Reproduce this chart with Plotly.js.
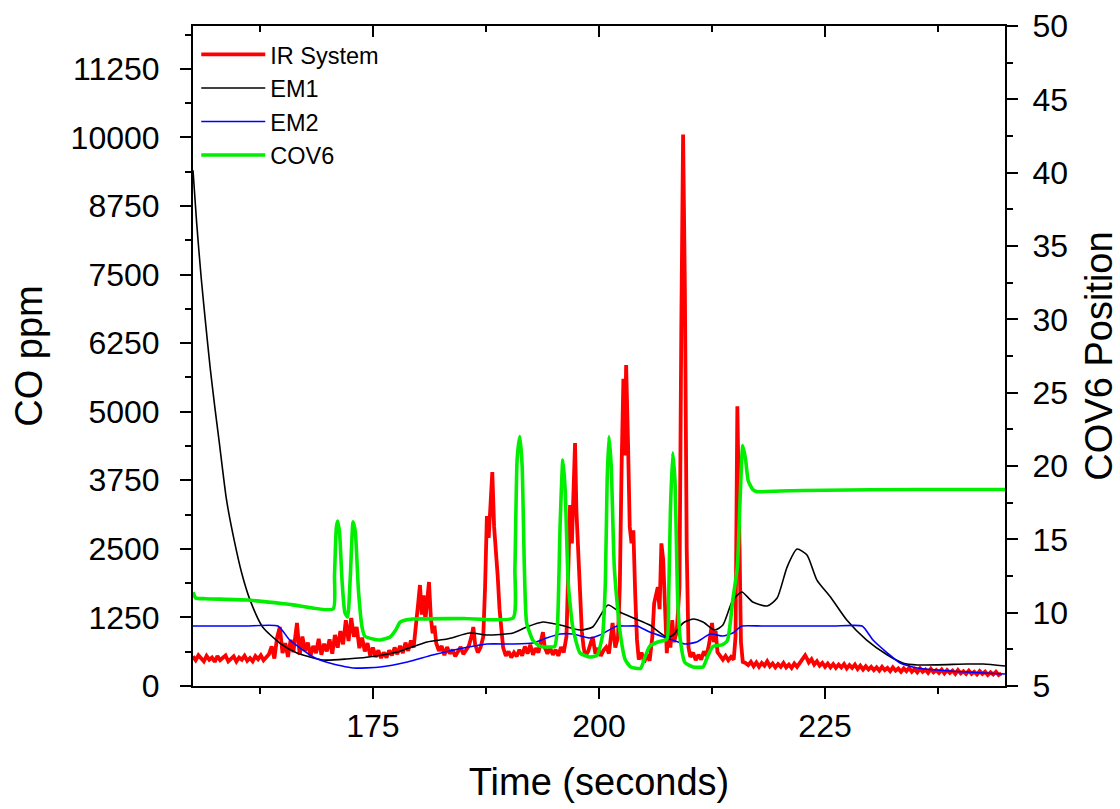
<!DOCTYPE html>
<html>
<head>
<meta charset="utf-8">
<script src="https://cdn.plot.ly/plotly-3.0.1.min.js"></script>
<style>html,body{margin:0;padding:0;background:#fff;}#chart{width:1120px;height:809px;}</style>
</head>
<body>
<div id="chart"></div>
<script>
// ---------------- DATA ----------------
const IR_T = [155.1,155.4,155.7,156.0,156.3,156.6,156.9,157.2,157.5,157.8,158.1,158.4,158.7,159.0,159.3,159.6,159.9,160.2,160.5,160.8,161.1,161.4,161.7,162.0,162.3,162.6,162.9,163.2,163.5,
163.8,164.1,164.4,164.7,165.0,165.3,165.6,165.9,166.2,166.6,166.9,167.2,167.5,167.8,168.1,168.4,168.7,169.0,169.3,169.6,169.9,170.2,170.5,170.8,171.1,171.4,171.7,172.0,172.3,172.6,172.9,173.2,173.5,173.8,174.1,174.4,174.7,175.0,175.3,175.6,175.9,
176.2,176.5,176.8,177.1,177.4,177.7,178.0,178.3,178.6,178.9,179.2,179.5,179.8,180.0,180.2,180.4,180.6,180.8,181.0,181.2,181.4,181.6,181.8,182.0,182.3,182.6,182.9,183.2,183.5,183.8,184.1,184.4,184.7,185.0,185.3,185.6,185.9,186.1,186.3,186.6,186.9,187.2,187.4,187.6,187.8,188.0,188.2,188.4,188.6,188.8,189.0,189.2,189.4,189.7,
190.0,190.3,190.6,190.9,191.2,191.5,191.8,192.1,192.4,192.7,193.0,193.3,193.6,193.8,194.0,194.3,194.6,194.9,195.2,195.5,195.8,196.1,196.4,196.6,196.8,197.0,197.2,197.35,197.5,197.7,197.9,198.1,198.3,198.5,198.8,199.1,199.3,199.6,199.9,
200.2,200.5,200.8,201.1,201.5,201.8,202.1,202.3,202.5,202.7,202.85,203.0,203.2,203.4,203.6,203.8,204.0,204.2,204.4,204.7,205.0,205.3,205.6,205.9,206.1,206.3,206.5,206.7,206.9,207.1,207.3,207.5,207.7,207.9,208.1,208.3,208.6,208.9,209.1,209.3,209.5,209.7,209.9,
210.1,210.4,210.7,211.0,211.3,211.6,211.9,212.2,212.5,212.7,212.9,213.1,213.4,213.7,214.0,214.3,214.6,214.9,215.1,215.3,215.5,215.7,215.9,216.2,216.5,216.8,217.1,217.4,217.7,218.0,218.3,218.6,218.9,219.2,219.5,219.8,
220.1,220.4,220.7,221.0,221.3,221.6,221.9,222.2,222.5,222.8,223.0,223.2,223.5,223.8,224.1,224.4,224.7,225.0,225.3,225.6,225.9,226.2,226.5,226.8,227.1,227.4,227.7,228.0,228.3,228.6,228.9,229.2,229.5,229.8,
230.1,230.4,230.7,231.0,231.3,231.6,231.9,232.2,232.5,232.8,233.1,233.4,233.7,234.0,234.3,234.6,234.9,235.2,235.5,235.8,236.1,236.4,236.7,237.0,237.3,237.6,237.9,238.2,238.5,238.8,239.1,239.4,239.7,
240.0,240.3,240.6,240.9,241.2,241.5,241.8,242.1,242.4,242.7,243.0,243.3,243.6,243.9,244.2,244.5,244.9];
const IR_V = [540,470,560,500,450,550,480,520,440,545,470,515,555,450,500,540,445,520,480,550,460,510,450,545,490,560,470,530,580,
720,500,880,1075,600,780,530,840,620,1150,570,900,640,790,550,730,600,860,570,770,630,850,590,930,700,1000,760,1200,820,1240,900,1075,690,880,630,780,550,700,530,650,510,
610,520,650,560,700,580,730,600,790,640,830,700,1100,1500,1840,1300,1650,1200,1560,1895,1250,960,1100,780,640,730,560,710,590,660,540,630,710,580,660,730,900,1075,760,610,700,900,1800,3100,2700,3200,3900,2900,2500,2000,1400,1000,700,550,
630,520,610,540,660,550,720,590,750,570,690,610,810,980,700,590,690,570,660,550,710,610,900,2200,3300,2600,3800,4430,3200,2400,1570,1000,700,550,630,770,890,590,690,
550,650,710,590,1150,700,900,1800,4000,5600,4200,5850,4500,2900,2600,2840,1700,840,480,610,430,570,460,900,1510,1700,1800,1400,2600,2300,1570,600,1100,700,1200,800,1000,1800,6500,10050,7200,2500,700,
530,610,470,570,480,630,550,790,1150,800,1000,620,550,480,550,470,530,480,900,5100,3000,800,440,420,380,440,360,430,350,420,370,450,360,410,340,
400,350,420,340,390,330,410,350,430,490,560,500,430,490,390,450,370,420,350,410,340,400,330,390,340,400,320,380,330,390,310,370,300,360,
300,350,290,340,280,350,290,330,270,340,280,320,260,320,270,330,260,310,250,320,260,300,240,310,250,290,240,300,230,290,240,280,220,
290,230,270,220,280,220,260,210,270,220,260,200,250,210,260,200,230];

const EM1_T = [155.1,155.5,156.0,156.5,157.0,157.5,158.0,158.8,159.6,160.5,161.4,162.8,164.7,166.6,169.5,172.1,175.4,177.7,181.0,183.2,185.7,187.6,190.5,192.0,193.8,195.7,197.9,199.3,201.0,202.3,203.8,205.6,207.5,208.2,209.3,210.4,211.5,212.8,213.7,214.8,215.8,217.0,218.6,219.7,220.8,221.9,223.0,224.1,225.6,227.4,229.6,231.9,233.6,235.2,240.7,242.5,244.9];
const EM1_V = [9400,8450,7450,6600,5800,5100,4450,3400,2700,2050,1570,1075,783,601,474,492,547,620,802,856,966,929,966,1075,1166,1111,1020,1075,1476,1348,1239,1111,893,929,1148,1221,1166,1020,1111,1567,1713,1530,1458,1603,2168,2496,2387,1931,1622,1203,838,565,419,383,401,401,364];

const EM2_T = [155.1,158.0,161.0,164.5,165.8,168.4,170.2,172.8,175.8,178.8,181.6,185.0,187.6,190.5,192.7,194.2,195.7,197.1,199.0,200.1,202.0,203.0,204.2,205.6,207.5,209.5,210.8,212.3,213.7,214.8,215.8,218.0,222.0,226.0,229.1,230.3,231.9,233.3,235.2,238.8,244.9];
const EM2_V = [1093,1093,1093,1093,838,528,419,328,346,437,565,692,765,765,783,875,947,947,875,929,1093,1093,1093,984,875,765,802,947,911,966,1093,1093,1093,1093,1093,838,601,419,328,273,219];

const COV6_T = [155.1,155.4,156.5,161.1,166.0,170.6,170.75,170.95,171.1,171.3,171.6,171.9,172.2,172.5,172.8,173.05,173.4,173.8,174.1,175.0,175.8,176.9,177.5,178.0,178.6,179.4,185.0,190.5,190.7,190.95,191.25,191.5,191.75,192.0,192.7,193.5,194.2,195.1,195.4,195.7,196.0,196.25,196.6,197.1,197.9,199.0,199.8,200.4,200.7,200.9,201.1,201.35,201.7,202.3,202.9,203.5,204.6,205.1,205.6,206.5,207.5,207.7,207.9,208.15,208.4,208.7,209.0,209.5,210.4,211.5,212.0,212.6,213.6,214.2,214.8,215.3,215.6,215.9,216.2,216.5,217.0,217.5,220.0,225.0,235.0,244.9];
const COV6_V = [11.4,11.0,10.95,10.86,10.55,10.25,12.5,15.8,16.25,15.5,12.0,10.0,9.7,12.5,16.2,15.5,11.5,9.0,8.4,8.2,8.14,8.34,8.8,9.36,9.5,9.57,9.6,9.64,13.0,20.5,22.0,20.0,13.0,9.3,8.1,7.7,7.66,7.7,9.0,16.0,20.4,18.5,12.0,9.0,7.25,6.98,7.1,8.5,12.0,19.0,22.0,20.0,13.0,8.8,6.8,6.3,6.2,7.0,7.7,8.0,8.2,11.0,17.0,20.9,19.0,11.0,8.1,6.6,6.3,6.3,7.0,7.7,7.8,8.1,10.9,13.1,17.7,21.4,20.5,19.0,18.4,18.25,18.3,18.35,18.4,18.4];

const SERIES_NAMES = ["IR System","EM1","EM2","COV6"];
const X_TITLE = "Time (seconds)";
const Y_TITLE = "CO ppm";
const Y2_TITLE = "COV6 Position";

// ---------------- CHART ----------------
const FONT = "Liberation Sans, Arial, sans-serif";
const traces = [
  {x: IR_T, y: IR_V, name: SERIES_NAMES[0], type: 'scatter', mode: 'lines', line: {color: '#ff0000', width: 3.8}, xaxis: 'x', yaxis: 'y'},
  {x: EM1_T, y: EM1_V, name: SERIES_NAMES[1], type: 'scatter', mode: 'lines', line: {color: '#000000', width: 1.6, shape: 'spline', smoothing: 0.6}, xaxis: 'x', yaxis: 'y'},
  {x: EM2_T, y: EM2_V, name: SERIES_NAMES[2], type: 'scatter', mode: 'lines', line: {color: '#0000ff', width: 1.6, shape: 'spline', smoothing: 0.5}, xaxis: 'x', yaxis: 'y'},
  {x: COV6_T, y: COV6_V, name: SERIES_NAMES[3], type: 'scatter', mode: 'lines', line: {color: '#00ee00', width: 3.6, shape: 'spline', smoothing: 0.5}, xaxis: 'x', yaxis: 'y2'},
  {x: [null], y: [null], xaxis: 'x2', yaxis: 'y', showlegend: false, hoverinfo: 'skip', mode: 'lines'}
];

const XR = [155.1, 244.9];
const layout = {
  width: 1120, height: 809,
  margin: {l: 193, r: 115, t: 26, b: 123},
  paper_bgcolor: '#fff', plot_bgcolor: '#fff',
  font: {family: FONT, color: '#000'},
  showlegend: true,
  legend: {x: 0.004, y: 0.99, xanchor: 'left', yanchor: 'top', bgcolor: 'rgba(0,0,0,0)', borderwidth: 0,
           font: {family: FONT, size: 23.5, color: '#000'}, tracegroupgap: 0, itemwidth: 64},
  xaxis: {range: XR, tick0: 0, dtick: 25, ticks: 'outside', ticklen: 11, tickwidth: 2, tickcolor: '#000',
          showline: true, linewidth: 2, linecolor: '#000', showgrid: false, zeroline: false,
          tickfont: {family: FONT, size: 32}, ticklabelstandoff: 0,
          minor: {dtick: 12.5, tick0: 0, ticks: 'outside', ticklen: 6, tickwidth: 2, tickcolor: '#000', showgrid: false},
          title: {text: X_TITLE, font: {family: FONT, size: 38}, standoff: 25}},
  xaxis2: {range: XR, overlaying: 'x', side: 'top', tick0: 0, dtick: 25, ticks: 'inside', ticklen: 11, tickwidth: 2, tickcolor: '#000',
           showline: true, linewidth: 2, linecolor: '#000', showgrid: false, zeroline: false, showticklabels: false,
           minor: {dtick: 12.5, tick0: 0, ticks: 'inside', ticklen: 6, tickwidth: 2, tickcolor: '#000', showgrid: false}},
  yaxis: {range: [0, 12030], tick0: 0, dtick: 1250, tickformat: 'd', exponentformat: 'none', ticks: 'outside', ticklen: 11, tickwidth: 2, tickcolor: '#000',
          showline: true, linewidth: 2, linecolor: '#000', showgrid: false, zeroline: false,
          tickfont: {family: FONT, size: 32}, ticklabelstandoff: 14,
          minor: {dtick: 625, tick0: 0, ticks: 'outside', ticklen: 6, tickwidth: 2, tickcolor: '#000', showgrid: false},
          title: {text: Y_TITLE, font: {family: FONT, size: 38}, standoff: 16}},
  yaxis2: {range: [5, 50], overlaying: 'y', side: 'right', tick0: 0, dtick: 5, ticks: 'outside', ticklen: 11, tickwidth: 2, tickcolor: '#000',
           showline: true, linewidth: 2, linecolor: '#000', showgrid: false, zeroline: false,
           tickfont: {family: FONT, size: 32}, ticklabelstandoff: 8,
           minor: {dtick: 2.5, tick0: 0, ticks: 'outside', ticklen: 6, tickwidth: 2, tickcolor: '#000', showgrid: false},
           title: {text: Y2_TITLE, font: {family: FONT, size: 38}, standoff: 18}}
};

Plotly.newPlot('chart', traces, layout, {displayModeBar: false, staticPlot: true});
</script>
</body>
</html>
